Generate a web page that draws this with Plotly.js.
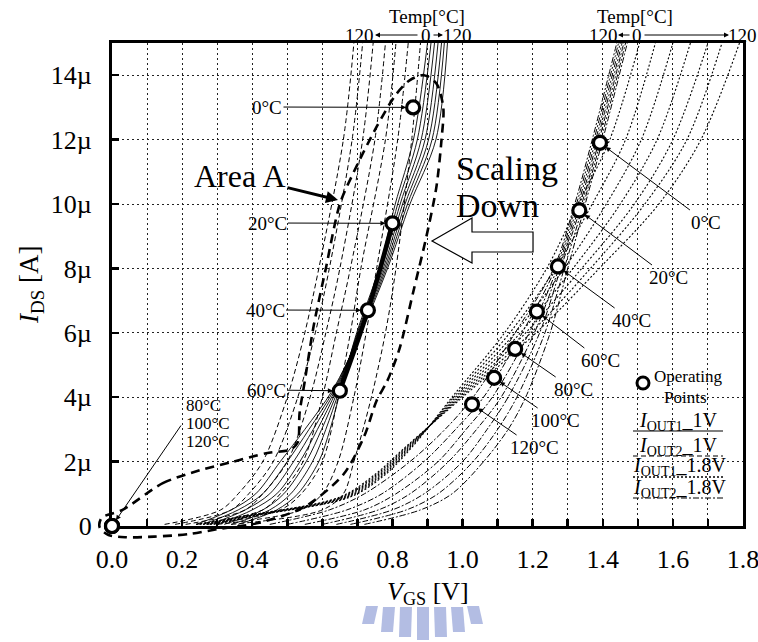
<!DOCTYPE html>
<html><head><meta charset="utf-8">
<script src="https://cdn.plot.ly/plotly-3.0.1.min.js"></script>
<style>body{margin:0;background:#fff}#chart{width:758px;height:642px}</style>
</head><body><div id="chart"></div>
<script>
// ---------- DATA (VGS in V, IDS in µA) ----------
const TEMPS = [0, 20, 40, 60, 80, 100, 120];

// I_OUT1 @ 1V (solid): VGS read at each current level, one row per temperature
const IDS_LEVELS_OUT1_1V = [0.05, 0.5, 1, 2, 3, 4.2, 6, 8, 10, 12, 15];
const VGS_OUT1_1V = [
  [0.360, 0.470, 0.530, 0.590, 0.622, 0.652, 0.698, 0.762, 0.808, 0.860, 0.900],
  [0.340, 0.450, 0.510, 0.572, 0.610, 0.648, 0.700, 0.766, 0.815, 0.871, 0.910],
  [0.320, 0.430, 0.490, 0.554, 0.598, 0.644, 0.702, 0.770, 0.822, 0.882, 0.920],
  [0.300, 0.400, 0.470, 0.536, 0.586, 0.640, 0.704, 0.774, 0.829, 0.893, 0.930],
  [0.280, 0.380, 0.450, 0.518, 0.574, 0.636, 0.706, 0.778, 0.836, 0.903, 0.940],
  [0.260, 0.360, 0.430, 0.500, 0.562, 0.632, 0.708, 0.782, 0.843, 0.913, 0.948],
  [0.240, 0.340, 0.410, 0.480, 0.550, 0.628, 0.710, 0.786, 0.850, 0.924, 0.957]
];

// I_OUT2 @ 1V (dashed)
const IDS_LEVELS_OUT2_1V = [0.05, 0.5, 1, 2, 4, 6, 8, 12, 15];
const VGS_OUT2_1V = [
  [0.340, 0.600, 0.660, 0.690, 0.740, 0.780, 0.810, 0.855, 0.880],
  [0.300, 0.540, 0.600, 0.645, 0.690, 0.725, 0.755, 0.815, 0.845],
  [0.270, 0.480, 0.540, 0.600, 0.645, 0.680, 0.710, 0.780, 0.810],
  [0.240, 0.430, 0.480, 0.545, 0.600, 0.640, 0.680, 0.750, 0.780],
  [0.210, 0.380, 0.430, 0.500, 0.565, 0.610, 0.650, 0.715, 0.745],
  [0.180, 0.340, 0.390, 0.460, 0.530, 0.580, 0.620, 0.685, 0.715],
  [0.150, 0.310, 0.360, 0.430, 0.500, 0.550, 0.590, 0.660, 0.690]
];

// I_OUT1 @ 1.8V (dotted)
const IDS_LEVELS_OUT1_18V = [0.05, 0.3, 0.9, 1.6, 2.5, 4, 6, 8, 10, 12, 15];
const VGS_OUT1_18V = [
  [0.300, 0.400, 0.680, 0.780, 0.860, 0.970, 1.120, 1.240, 1.330, 1.420, 1.505],
  [0.290, 0.395, 0.675, 0.775, 0.857, 0.975, 1.135, 1.265, 1.370, 1.465, 1.550],
  [0.280, 0.390, 0.670, 0.770, 0.854, 0.980, 1.150, 1.290, 1.410, 1.510, 1.600],
  [0.270, 0.385, 0.665, 0.765, 0.851, 0.985, 1.165, 1.315, 1.450, 1.555, 1.650],
  [0.260, 0.380, 0.660, 0.760, 0.848, 0.990, 1.180, 1.340, 1.490, 1.600, 1.700],
  [0.250, 0.375, 0.655, 0.755, 0.845, 0.995, 1.195, 1.365, 1.520, 1.640, 1.740],
  [0.240, 0.370, 0.650, 0.750, 0.842, 1.000, 1.210, 1.390, 1.560, 1.680, 1.790]
];

// I_OUT2 @ 1.8V (dash-dot)
const IDS_LEVELS_OUT2_18V = [0.05, 0.5, 1, 2, 3, 4, 6, 8, 10, 12, 15];
const VGS_OUT2_18V = [
  [0.720, 0.880, 0.970, 1.060, 1.130, 1.180, 1.250, 1.300, 1.350, 1.400, 1.470],
  [0.680, 0.840, 0.930, 1.030, 1.100, 1.155, 1.235, 1.290, 1.345, 1.395, 1.465],
  [0.640, 0.800, 0.890, 1.000, 1.070, 1.130, 1.220, 1.280, 1.340, 1.390, 1.460],
  [0.600, 0.760, 0.850, 0.960, 1.040, 1.110, 1.205, 1.275, 1.335, 1.385, 1.455],
  [0.550, 0.720, 0.810, 0.930, 1.010, 1.085, 1.190, 1.270, 1.330, 1.380, 1.450],
  [0.500, 0.670, 0.770, 0.890, 0.980, 1.060, 1.170, 1.265, 1.325, 1.375, 1.445],
  [0.450, 0.620, 0.720, 0.850, 0.950, 1.030, 1.150, 1.260, 1.320, 1.370, 1.440]
];

// Operating points (one per temperature)
const OP_1V_VGS = [0.859, 0.800, 0.730, 0.650, 0.000, 0.000, 0.000];
const OP_1V_IDS = [13.0, 9.4, 6.7, 4.2, 0.0, 0.0, 0.0];
const OP_18V_VGS = [1.392, 1.333, 1.272, 1.212, 1.150, 1.090, 1.027];
const OP_18V_IDS = [11.9, 9.8, 8.06, 6.66, 5.5, 4.6, 3.78];

// "Area A" boundary (thick dashed closed curve)
const AREA_A_VGS = [0.03,0.145,0.25,0.34,0.44,0.51,0.53,0.535,0.55,0.575,0.61,0.65,0.69,0.755,0.81,0.85,0.89,0.925,0.945,0.94,0.925,0.895,0.86,0.82,0.785,0.755,0.72,0.66,0.55,0.42,0.30,0.22,0.12,0.04,-0.01,-0.035,-0.03,0.03];
const AREA_A_IDS = [0.5,1.33,1.73,1.98,2.26,2.38,2.6,3.5,4.5,6.2,8.0,10.0,11.0,12.4,13.4,13.85,14.0,13.75,13.0,12.0,10.5,8.9,7.3,5.5,4.5,3.9,2.8,1.6,0.6,0.1,-0.1,-0.25,-0.33,-0.35,-0.28,-0.05,0.25,0.5];

// Axis ticks
const Y_TICKVALS = [0, 2, 4, 6, 8, 10, 12, 14];
const Y_TICKTEXT = ['0', '2µ', '4µ', '6µ', '8µ', '10µ', '12µ', '14µ'];

// ---------- GEOMETRY ----------
const W = 758, H = 642;
const M = {l: 90, r: 15, t: 43, b: 95};
const PW = W - M.l - M.r, PH = H - M.t - M.b;
const X0PX = 112, X1PX = 743, Y0PX = 526, Y1PX = 43;
const XMAX = 1.8, YMAX = 15;
const XS = (X1PX - X0PX) / XMAX, YS = (Y0PX - Y1PX) / YMAX;
const dx0 = (X0PX - M.l) / PW, dy0 = (H - M.b - Y0PX) / PH;
const x2min = -(X0PX - M.l) / XS, y2min = -((H - M.b) - Y0PX) / YS;
const vx = px => (px - X0PX) / XS;
const vy = py => (Y0PX - py) / YS;
const PX = px => (px - M.l) / PW;
const PY = py => (H - M.b - py) / PH;

const FONT = "'Liberation Serif', 'Times New Roman', serif";

// ---------- TRACES ----------
const traces = [];
traces.push({x: [], y: [], xaxis: 'x', yaxis: 'y', mode: 'lines', showlegend: false, hoverinfo: 'skip'});

function family(rows, levels, dash, width) {
  rows.forEach(r => traces.push({
    x: r, y: levels, xaxis: 'x2', yaxis: 'y2', mode: 'lines',
    line: {color: '#000', width: width, dash: dash, shape: 'spline', smoothing: 0.9},
    showlegend: false, hoverinfo: 'skip'
  }));
}
family(VGS_OUT2_1V, IDS_LEVELS_OUT2_1V, '5px,3px', 1);
family(VGS_OUT1_1V, IDS_LEVELS_OUT1_1V, 'solid', 0.9);
family(VGS_OUT1_18V, IDS_LEVELS_OUT1_18V, '2px,2px', 1.1);
family(VGS_OUT2_18V, IDS_LEVELS_OUT2_18V, '6px,2px,2px,2px', 1);

// thick locus through the 1V operating points (20..60 °C)
traces.push({
  x: OP_1V_VGS.slice(1, 4), y: OP_1V_IDS.slice(1, 4), xaxis: 'x2', yaxis: 'y2', mode: 'lines',
  line: {color: '#000', width: 4.5, shape: 'spline'}, showlegend: false, hoverinfo: 'skip'
});
// Area A
traces.push({
  x: AREA_A_VGS, y: AREA_A_IDS, xaxis: 'x2', yaxis: 'y2', mode: 'lines',
  line: {color: '#000', width: 2.6, dash: '9px,6px', shape: 'spline', smoothing: 0.8},
  showlegend: false, hoverinfo: 'skip'
});
// operating points
const opMarker = {symbol: 'circle', size: 13, color: '#fff', line: {color: '#000', width: 3.2}};
traces.push({x: OP_1V_VGS, y: OP_1V_IDS, xaxis: 'x2', yaxis: 'y2', mode: 'markers', marker: opMarker, showlegend: false, hoverinfo: 'skip'});
traces.push({x: OP_18V_VGS, y: OP_18V_IDS, xaxis: 'x2', yaxis: 'y2', mode: 'markers', marker: opMarker, showlegend: false, hoverinfo: 'skip'});

// ---------- ANNOTATIONS ----------
const anns = [];
function txt(px, py, text, size, extra) {
  anns.push(Object.assign({xref: 'paper', yref: 'paper', x: PX(px), y: PY(py), text: text, showarrow: false,
    font: {family: FONT, size: size, color: '#000'}, xanchor: 'center', yanchor: 'middle'}, extra || {}));
}
function arr(hx, hy, tx, ty) {
  anns.push({xref: 'paper', yref: 'paper', x: PX(hx), y: PY(hy), ax: tx - hx, ay: ty - hy, text: '',
    showarrow: true, arrowhead: 2, arrowsize: 1, arrowwidth: 1, arrowcolor: '#000'});
}
// temperature direction labels
txt(427, 17, 'Temp[°C]', 19); txt(359, 35, '120', 19); txt(426, 35, '0', 19); txt(457, 35, '120', 19);
arr(375, 35, 419, 35); arr(443, 35, 432, 35);
txt(635, 17, 'Temp[°C]', 19); txt(603, 35, '120', 19); txt(637, 35, '0', 19); txt(742, 35, '120', 19);
arr(618, 35, 631, 35); arr(729, 35, 643, 35);

// operating point labels
function opLabel(vgs, ids, tx, ty, text) {
  anns.push({xref: 'x2', yref: 'y2', x: vgs, y: ids, axref: 'x2', ayref: 'y2', ax: vx(tx), ay: vy(ty),
    text: text, showarrow: true, arrowhead: 2, arrowsize: 1, arrowwidth: 1, arrowcolor: '#000', standoff: 7,
    font: {family: FONT, size: 19, color: '#000'}});
}
const LEFT_LABEL_POS = [[267, 107], [267, 223], [265, 310], [266, 390]];
LEFT_LABEL_POS.forEach((p, i) => opLabel(OP_1V_VGS[i], OP_1V_IDS[i], p[0], p[1], TEMPS[i] + '°C'));
const RIGHT_LABEL_POS = [[706, 222], [668, 277], [631, 320], [600, 360], [573, 389], [555, 420], [534, 447]];
RIGHT_LABEL_POS.forEach((p, i) => opLabel(OP_18V_VGS[i], OP_18V_IDS[i], p[0], p[1], TEMPS[i] + '°C'));
// 80/100/120 at origin
anns.push({xref: 'x2', yref: 'y2', x: OP_1V_VGS[4], y: OP_1V_IDS[4], axref: 'x2', ayref: 'y2', ax: vx(182), ay: vy(424),
  text: '', showarrow: true, arrowhead: 2, arrowsize: 1, arrowwidth: 1, arrowcolor: '#000', standoff: 7});
txt(184, 405, TEMPS[4] + '°C', 17, {xanchor: 'left'});
txt(184, 423, TEMPS[5] + '°C', 17, {xanchor: 'left'});
txt(184, 441, TEMPS[6] + '°C', 17, {xanchor: 'left'});

// Area A label + arrow
anns.push({xref: 'x2', yref: 'y2', x: vx(338), y: vy(200), axref: 'x2', ayref: 'y2', ax: vx(240), ay: vy(176),
  text: 'Area A', showarrow: true, arrowhead: 2, arrowsize: 0.8, arrowwidth: 3, arrowcolor: '#000',
  font: {family: FONT, size: 32, color: '#000'}});
txt(454, 168, 'Scaling', 34, {xanchor: 'left'});
txt(454, 206, 'Down', 34, {xanchor: 'left'});

// axis titles
txt(31, 285, '<i>I</i><sub>DS</sub> [A]', 27, {textangle: -90});
txt(428, 593, '<i>V</i><sub>GS</sub> [V]', 26);

// legend texts
txt(688, 376, 'Operating', 17);
txt(685, 398, 'Points', 17);
txt(678, 421, '<i>I</i><sub>OUT1</sub>_1V', 20);
txt(678, 446, '<i>I</i><sub>OUT2</sub>_1V', 20);
txt(679, 466, '<i>I</i><sub>OUT1</sub>_1.8V', 20);
txt(679, 488, '<i>I</i><sub>OUT2</sub>_1.8V', 20);

// ---------- SHAPES ----------
const shapes = [];
// hollow "scaling down" arrow
const ARROW_PX = [[432, 241], [472, 218], [472, 232], [533, 232], [533, 252], [472, 252], [472, 263]];
shapes.push({type: 'path', xref: 'x2', yref: 'y2',
  path: 'M' + ARROW_PX.map(p => vx(p[0]).toFixed(4) + ',' + vy(p[1]).toFixed(4)).join(' L') + ' Z',
  line: {color: '#000', width: 1.2}, fillcolor: '#fff', layer: 'above'});
// legend
shapes.push({type: 'circle', xref: 'paper', yref: 'paper', x0: PX(637), x1: PX(649), y0: PY(389), y1: PY(377),
  line: {color: '#000', width: 3}, fillcolor: '#fff'});
const LEG_LINES = [[431, 'solid', 1.2], [456, '5px,3px', 1.2], [477, '2px,2px', 1.4], [498, '6px,2px,2px,2px', 1.2]];
LEG_LINES.forEach(l => shapes.push({type: 'line', xref: 'paper', yref: 'paper', x0: PX(633), x1: PX(723),
  y0: PY(l[0]), y1: PY(l[0]), line: {color: '#000', width: l[2], dash: l[1]}}));
// watermark fragment (light blue fan)
const WM = [[366, 606, 624, -4], [383, 607, 632, -2], [400, 607, 637, -1], [417, 607, 640, 0], [434, 607, 637, 1], [451, 607, 632, 2], [467, 606, 624, 4]];
WM.forEach(b => shapes.push({type: 'path', xref: 'paper', yref: 'paper',
  path: 'M' + PX(b[0]) + ',' + PY(b[1]) + ' L' + PX(b[0] + 12) + ',' + PY(b[1]) + ' L' + PX(b[0] + 12 + b[3]) + ',' + PY(b[2]) +
        ' L' + PX(b[0] + b[3]) + ',' + PY(b[2]) + ' Z',
  line: {width: 0}, fillcolor: '#b3bde3'}));

// ---------- LAYOUT ----------
const gridStyle = {showgrid: true, gridcolor: '#222', gridwidth: 1, griddash: '2px,3px'};
const layout = {
  width: W, height: H, margin: M, paper_bgcolor: '#fff', plot_bgcolor: 'rgba(0,0,0,0)',
  showlegend: false, font: {family: FONT, color: '#000'},
  xaxis: Object.assign({domain: [dx0, 1], range: [0, XMAX], anchor: 'y', tick0: 0, dtick: 0.2, tickformat: '.1f',
    ticks: 'inside', ticklen: 7, tickwidth: 2.5, tickcolor: '#000', ticklabeloverflow: 'allow',
    minor: Object.assign({dtick: 0.1, ticks: 'inside', ticklen: 7, tickwidth: 2.5, tickcolor: '#000'}, gridStyle),
    showline: true, linewidth: 3, linecolor: '#000', mirror: true, zeroline: false,
    tickfont: {family: FONT, size: 26, color: '#000'}, ticklabelstandoff: 8}, gridStyle),
  yaxis: Object.assign({domain: [dy0, 1], range: [0, YMAX], anchor: 'x', tickvals: Y_TICKVALS, ticktext: Y_TICKTEXT,
    ticks: 'inside', ticklen: 7, tickwidth: 2.5, tickcolor: '#000', ticklabeloverflow: 'allow',
    showline: true, linewidth: 3, linecolor: '#000', mirror: true, zeroline: false,
    tickfont: {family: FONT, size: 26, color: '#000'}, ticklabelstandoff: 12}, gridStyle),
  xaxis2: {domain: [0, 1], range: [x2min, XMAX], anchor: 'y2', visible: false},
  yaxis2: {domain: [0, 1], range: [y2min, YMAX], anchor: 'x2', visible: false},
  annotations: anns, shapes: shapes
};
Plotly.newPlot('chart', traces, layout, {staticPlot: true, displayModeBar: false});
</script>
</body></html>
